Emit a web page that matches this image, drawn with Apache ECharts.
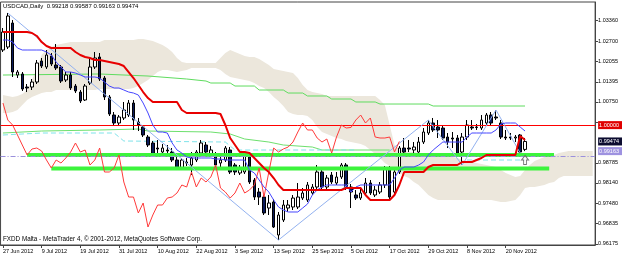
<!DOCTYPE html>
<html><head><meta charset="utf-8">
<script src="https://cdn.jsdelivr.net/npm/echarts@6/dist/echarts.min.js"></script>
<style>html,body{margin:0;padding:0;background:#fff}#c{width:625px;height:257px}</style>
</head><body><div id="c"></div>
<script>
const dates = ['27 Jun 2012','28 Jun 2012','29 Jun 2012',
'2 Jul 2012','3 Jul 2012','4 Jul 2012','5 Jul 2012','6 Jul 2012','9 Jul 2012','10 Jul 2012','11 Jul 2012','12 Jul 2012','13 Jul 2012','16 Jul 2012','17 Jul 2012','18 Jul 2012','19 Jul 2012','20 Jul 2012','23 Jul 2012','24 Jul 2012','25 Jul 2012','26 Jul 2012','27 Jul 2012','30 Jul 2012','31 Jul 2012',
'1 Aug 2012','2 Aug 2012','3 Aug 2012','6 Aug 2012','7 Aug 2012','8 Aug 2012','9 Aug 2012','10 Aug 2012','13 Aug 2012','14 Aug 2012','15 Aug 2012','16 Aug 2012','17 Aug 2012','20 Aug 2012','21 Aug 2012','22 Aug 2012','23 Aug 2012','24 Aug 2012','27 Aug 2012','28 Aug 2012','29 Aug 2012','30 Aug 2012','31 Aug 2012',
'3 Sep 2012','4 Sep 2012','5 Sep 2012','6 Sep 2012','7 Sep 2012','10 Sep 2012','11 Sep 2012','12 Sep 2012','13 Sep 2012','14 Sep 2012','17 Sep 2012','18 Sep 2012','19 Sep 2012','20 Sep 2012','21 Sep 2012','24 Sep 2012','25 Sep 2012','26 Sep 2012','27 Sep 2012','28 Sep 2012',
'1 Oct 2012','2 Oct 2012','3 Oct 2012','4 Oct 2012','5 Oct 2012','8 Oct 2012','9 Oct 2012','10 Oct 2012','11 Oct 2012','12 Oct 2012','15 Oct 2012','16 Oct 2012','17 Oct 2012','18 Oct 2012','19 Oct 2012','22 Oct 2012','23 Oct 2012','24 Oct 2012','25 Oct 2012','26 Oct 2012','29 Oct 2012','30 Oct 2012','31 Oct 2012',
'1 Nov 2012','2 Nov 2012','5 Nov 2012','6 Nov 2012','7 Nov 2012','8 Nov 2012','9 Nov 2012','12 Nov 2012','13 Nov 2012','14 Nov 2012','15 Nov 2012','16 Nov 2012','19 Nov 2012','20 Nov 2012','21 Nov 2012','22 Nov 2012','23 Nov 2012','26 Nov 2012',
'27 Nov 2012','28 Nov 2012','29 Nov 2012','30 Nov 2012','3 Dec 2012','4 Dec 2012','5 Dec 2012','6 Dec 2012','7 Dec 2012','10 Dec 2012','11 Dec 2012','12 Dec 2012','13 Dec 2012','14 Dec 2012'];

const tickLabels = ['27 Jun 2012','9 Jul 2012','19 Jul 2012','31 Jul 2012','10 Aug 2012','22 Aug 2012','3 Sep 2012','13 Sep 2012','25 Sep 2012','5 Oct 2012','17 Oct 2012','29 Oct 2012','8 Nov 2012','20 Nov 2012'];

const yTicks = [1.0336,1.027,1.02055,1.01395,1.0075,1.0009,0.98785,0.9814,0.9748,0.96835,0.96175];
const yTickLabels = ['1.03360','1.02700','1.02055','1.01395','1.00750','','0.98785','0.98140','0.97480','0.96835','0.96175'];

const open = [1.02417,1.02514,1.03286,1.01612,1.01645,1.01226,1.01226,1.01387,1.02063,1.0187,
1.02224,1.01934,1.0187,1.01452,1.01612,1.01258,1.01065,1.00808,1.01355,1.0187,
1.02192,1.01516,1.00905,1.00325,1.00068,1.00229,1.00325,1.00711,1.001,0.99939,
0.99617,0.99424,0.99263,0.99134,0.99199,0.99134,0.98877,0.98619,0.98813,0.98716,
0.98877,0.99102,0.9936,0.99038,0.99038,0.9878,0.98877,0.99199,0.98716,0.98459,
0.98491,0.98973,0.98233,0.97847,0.97686,0.97332,0.97526,0.96464,0.96946,0.97332,
0.97365,0.97365,0.97654,0.9759,0.97815,0.98008,0.98491,0.98008,0.98394,0.98137,
0.9833,0.98716,0.98008,0.97751,0.97654,0.97815,0.98137,0.97751,0.97847,0.98073,
0.98619,0.97847,0.98491,0.99263,0.99263,0.99199,0.99134,0.99456,0.99746,1.00068,
0.99939,0.99907,0.99617,0.99585,0.99585,0.99134,0.99617,0.99939,0.99939,0.99907,
1.00068,1.00325,1.00261,1.00068,0.99617,0.99617,0.99585,0.99682,0.99218];
const close = [1.02996,1.03511,1.01709,1.01709,1.01162,1.01194,1.01387,1.01999,1.01902,1.02256,
1.01966,1.01838,1.01419,1.01612,1.01194,1.01098,1.00776,1.01258,1.0187,1.0216,
1.01484,1.00905,1.00357,1.00068,1.00261,1.00486,1.00711,1.00164,1.00003,0.99682,
0.9936,0.99038,0.99231,0.99263,0.99167,0.98877,0.98619,0.98877,0.9878,0.98941,
0.99134,0.99424,0.99134,0.99199,0.98716,0.98877,0.99263,0.98491,0.98491,0.98619,
0.99038,0.98169,0.97686,0.97686,0.97172,0.97493,0.96721,0.97107,0.97429,0.97429,
0.97654,0.97686,0.97815,0.98073,0.98008,0.98491,0.98008,0.98298,0.98169,0.9833,
0.98716,0.97976,0.97847,0.97654,0.97815,0.98137,0.97815,0.97912,0.98073,0.98619,
0.97686,0.98491,0.99263,0.99134,0.99231,0.99295,0.99456,0.99778,1.00068,0.99843,
0.99843,0.99585,0.99456,0.99553,0.99102,0.99617,1.00003,0.99907,0.99925,1.00164,
1.00325,1.00068,1.00229,0.99617,0.99585,0.99585,0.99617,0.99134,0.99474];
const low = [1.02353,1.02449,1.01548,1.01516,1.01098,1.01065,1.0113,1.01323,1.01838,1.01806,
1.01902,1.01773,1.01355,1.01387,1.0113,1.01033,1.00711,1.00776,1.01291,1.01806,
1.01419,1.00808,1.00293,1.00003,0.99971,1.00164,1.00261,0.99843,0.9981,0.99617,
0.99295,0.99006,0.99038,0.9907,0.99102,0.98813,0.98555,0.98555,0.98684,0.98394,
0.98813,0.99038,0.9907,0.98973,0.98619,0.98619,0.98813,0.98426,0.98394,0.98394,
0.98426,0.98105,0.9759,0.97429,0.97107,0.97107,0.96689,0.96303,0.96882,0.97204,
0.97268,0.973,0.9759,0.97526,0.97751,0.97944,0.97912,0.97912,0.98105,0.98073,
0.98266,0.97912,0.97332,0.9759,0.9759,0.97751,0.97751,0.97686,0.97783,0.97976,
0.97622,0.97783,0.98426,0.99038,0.99134,0.99038,0.98973,0.99392,0.99682,0.99778,
0.99585,0.99521,0.99263,0.99263,0.99038,0.98716,0.99521,0.99843,0.99843,0.99843,
1.00003,1.00003,1.00164,0.99553,0.99521,0.99521,0.99456,0.99102,0.99163];
const high = [1.03125,1.03608,1.03382,1.01773,1.01709,1.01323,1.01484,1.02095,1.0216,1.02417,
1.0232,1.0261,1.01934,1.01709,1.01709,1.01323,1.0113,1.01323,1.02192,1.02353,
1.0232,1.0158,1.00969,1.00422,1.00325,1.00744,1.00808,1.00808,1.00229,1.00003,
0.99682,0.99488,0.99521,0.99392,0.9936,0.99263,0.98973,0.98941,0.98941,0.99134,
0.99199,0.99521,0.99456,0.99327,0.99134,0.98973,0.99327,0.99295,0.9878,0.98716,
0.99167,0.9907,0.98298,0.97976,0.97751,0.97751,0.97622,0.97204,0.9759,0.9759,
0.97751,0.98137,0.97976,0.98169,0.98105,0.98716,0.98619,0.98394,0.98491,0.98491,
0.9878,0.9878,0.98105,0.97912,0.97976,0.98298,0.98233,0.9804,0.98169,0.98684,
0.98684,0.98555,0.99327,0.99585,0.99521,0.99456,0.99617,0.99907,1.00164,1.00229,
1.00164,1.00003,0.99746,0.99778,0.99682,0.99746,1.00164,1.00164,1.00036,1.00325,
1.0039,1.00422,1.00486,1.00164,0.99843,0.99746,0.99682,0.99714,0.99587];

const tenkan = [1.02739,1.02739,1.02674,1.02481,1.02417,1.02417,1.02417,1.02417,1.02417,1.02353,
1.02256,1.02031,1.0187,1.01709,1.01709,1.01677,1.01612,1.01548,1.01548,1.01548,
1.01516,1.01387,1.01258,1.01194,1.01194,1.0113,1.01065,1.01033,1.00969,1.00711,
1.0039,1.00003,0.99778,0.99778,0.99746,0.99424,0.99199,0.99102,0.98974,0.98942,
0.98942,0.98942,0.98942,0.98942,0.98909,0.98909,0.98877,0.98877,0.98877,0.98877,
0.98877,0.98555,0.98459,0.98233,0.98008,0.97847,0.9759,0.97365,0.97268,0.97204,
0.97204,0.97204,0.97332,0.97461,0.97751,0.97912,0.98008,0.98073,0.98073,0.98073,
0.98073,0.98073,0.97847,0.98008,0.98073,0.98073,0.98073,0.98073,0.98073,0.98073,
0.98073,0.98298,0.98555,0.98652,0.98652,0.98652,0.98716,0.98813,0.99038,0.99199,
0.99328,0.99456,0.99456,0.99456,0.99456,0.99456,0.99617,0.99746,0.99746,0.99746,
0.99746,0.99746,0.99843,1.00036,1.00068,1.00068,1.00068,0.99939,0.9981];
const kijun = [1.02996,1.02996,1.02996,1.02996,1.02996,1.02996,1.02964,1.02868,1.02674,1.02546,
1.02481,1.02481,1.02481,1.02481,1.02481,1.02353,1.02256,1.02192,1.0216,1.02095,
1.02095,1.02063,1.02031,1.01999,1.01966,1.01902,1.01709,1.01516,1.01291,1.01065,
1.00872,1.00744,1.00744,1.00744,1.00744,1.00744,1.00744,1.00486,1.0039,1.0039,
1.0039,1.0039,1.0039,1.0039,1.0039,1.00357,1.00003,0.99585,0.9936,0.99134,
0.99134,0.99102,0.98941,0.9878,0.98619,0.98491,0.98298,0.98073,0.97912,0.97912,
0.97912,0.97912,0.97912,0.97912,0.97912,0.97912,0.97912,0.97912,0.97912,0.97912,
0.97912,0.97976,0.97976,0.97976,0.97976,0.97751,0.9759,0.9759,0.9759,0.9759,
0.9759,0.97751,0.98073,0.98491,0.98491,0.98491,0.98491,0.98491,0.98652,0.98716,
0.98716,0.98716,0.98716,0.98716,0.98716,0.98813,0.98813,0.98813,0.98877,0.98941,
0.99038,0.99038,0.99038,0.99038,0.99038,0.99038,0.99038,0.99649,0.99521];

const cloudUpper = [1.00969,1.00937,1.00905,1.00937,1.01001,1.0113,1.01452,1.01838,1.02256,1.02417,
1.02514,1.02578,1.0261,1.02642,1.02674,1.02674,1.02674,1.02674,1.02674,1.02674,
1.02674,1.02739,1.02739,1.02739,1.02739,1.02739,1.02739,1.02739,1.02771,1.02771,
1.02739,1.02707,1.02642,1.02578,1.02481,1.02353,1.0216,1.02031,1.01999,1.01999,
1.01999,1.01999,1.01999,1.01999,1.01999,1.0216,1.0232,1.02417,1.02353,1.02288,
1.02224,1.02192,1.02192,1.02127,1.02031,1.01934,1.01806,1.01773,1.01741,1.01709,
1.01677,1.01516,1.01291,1.0113,1.01065,1.01033,1.01001,1.00937,1.00937,1.00937,
1.00937,1.00937,1.00937,1.00937,1.00937,1.00937,1.00937,1.00937,1.00808,1.00647,
1.00003,0.9936,0.99231,0.99167,0.99135,0.99135,0.99102,0.99102,0.99102,0.99102,
0.9907,0.99038,0.99006,0.98974,0.98942,0.98877,0.98845,0.98813,0.98781,0.98749,
0.98716,0.98684,0.98652,0.98555,0.98459,0.98395,0.9833,0.98362,0.98555,0.98716,
0.98845,0.98909,0.98974,0.99006,0.99038,0.99102,0.99135,0.99167,0.99167,0.99167,
0.99167,0.99167,0.99167];
const cloudLower = [1.0039,1.0039,1.00422,1.00486,1.00647,1.00808,1.00905,1.00969,1.01033,1.01065,
1.01065,1.0113,1.0113,1.0113,1.0113,1.0113,1.0113,1.0113,1.0113,1.0113,
1.01162,1.01162,1.01162,1.01162,1.01162,1.01162,1.01162,1.01194,1.01258,1.01355,
1.01452,1.0158,1.01709,1.01773,1.01773,1.01741,1.01709,1.01741,1.01773,1.01838,
1.01838,1.01838,1.01838,1.01838,1.01838,1.01773,1.01645,1.01548,1.01516,1.01484,
1.01452,1.01419,1.01355,1.01258,1.01194,1.01065,1.00905,1.00776,1.00615,1.00422,
1.00357,1.00325,1.00325,1.00293,1.00164,0.99939,0.99778,0.99714,0.99649,0.99585,
0.99553,0.99489,0.99456,0.99424,0.99392,0.99328,0.99199,0.9907,0.98942,0.98781,
0.98684,0.98555,0.98459,0.98362,0.98298,0.98169,0.98073,0.97912,0.97751,0.97654,
0.9759,0.9759,0.9759,0.9759,0.9759,0.9759,0.9759,0.9759,0.9759,0.9759,
0.9759,0.9759,0.97558,0.97526,0.97526,0.97558,0.9759,0.97751,0.97976,0.98008,
0.98008,0.98041,0.98073,0.98137,0.98169,0.98298,0.98362,0.98362,0.98362,0.98362,
0.98362,0.98362,0.98362];

const chikouShift = 26;
const zigzag = [[1,1.03608],[57,0.96303],[88,1.00164],[95,0.98716],[102,1.00486],[107,0.99102]];
const maUpper = [[0,1.01612],[20,1.01645],[30,1.0158],[38,1.01484],[42,1.01419],[43,1.01355],[47,1.01355],[48,1.01258],[52,1.01258],[53,1.0113],[58,1.0113],[59,1.01033],[62,1.01033],[63,1.00937],[67,1.00937],[68,1.0084],[72,1.0084],[73,1.00744],[77,1.00744],[78,1.00679],[88,1.00679],[89,1.00615],[108,1.00615]];
const maLower = [[0,0.99746],[8,0.9981],[20,0.99843],[28,0.99875],[30,0.9981],[43,0.99778],[47,0.99714],[50,0.99553],[55,0.99456],[58,0.9936],[64,0.99295],[66,0.99199],[80,0.99199]];
const cyanA = [[0,0.99682],[8,0.99746],[23,0.99746],[25,0.99489],[46,0.99456],[48,0.99199],[73,0.99199]];
const cyanB = [[96,0.98877],[108,0.98877]];
const greenUpper = [[5,0.9904],[114,0.9904]];
const greenLower = [[10,0.9860],[113,0.9860]];
const redLevel = 1.0;
const purpleLevel = 0.99163;
const arrowMarks = [[108,0.98877]];

const last = open.length - 1;
const FONT = 'Liberation Sans';
const candles = open.map((o,i)=>[o, close[i], low[i], high[i]]);
const chikou = close.slice(chikouShift);
const cloudBand = cloudUpper.map((u,i)=>+(u - cloudLower[i]).toFixed(6));
const boxValues = [redLevel, close[last], purpleLevel];
const boxStyles = ['r','k','p'];

const chart = echarts.init(document.getElementById('c'), null, {renderer:'canvas'});
chart.setOption({
  animation:false,
  backgroundColor:'#fff',
  grid:{left:0, right:23, top:2, bottom:12, show:true, borderColor:'#444', borderWidth:1, backgroundColor:'#fff'},
  xAxis:{type:'category', data:dates, boundaryGap:true,
    axisLine:{show:true, lineStyle:{color:'#444'}},
    axisTick:{show:true, alignWithLabel:true, length:3, lineStyle:{color:'#444'},
      interval:(i,v)=>tickLabels.includes(v)},
    axisLabel:{show:true, interval:(i,v)=>tickLabels.includes(v), align:'left', margin:3,
      fontSize:5.5, fontFamily:FONT, color:'#000'},
    splitLine:{show:false}},
  yAxis:{type:'value', position:'right', min:0.96142, max:1.03962, scale:true,
    axisLine:{show:true, lineStyle:{color:'#444'}},
    splitLine:{show:false},
    axisTick:{show:true, length:3, lineStyle:{color:'#444'}, customValues:yTicks},
    axisLabel:{show:true, margin:3, fontSize:5.5, fontFamily:FONT, color:'#000',
      customValues: yTicks.concat(boxValues),
      formatter:(v)=>{
        const b = boxValues.indexOf(v);
        if (b >= 0) return '{' + boxStyles[b] + '|' + v.toFixed(5) + '}';
        const t = yTicks.indexOf(v);
        return t >= 0 ? yTickLabels[t] : '';
      },
      rich:{
        r:{backgroundColor:'#e00000', color:'#fff', fontSize:5.5, fontFamily:FONT, padding:[1,3,1,1]},
        k:{backgroundColor:'#0c0c30', color:'#fff', fontSize:5.5, fontFamily:FONT, padding:[1,3,1,1]},
        p:{backgroundColor:'#9e92e0', color:'#fff', fontSize:5.5, fontFamily:FONT, padding:[1,3,1,1]}
      }}},
  graphic:[
    {type:'text', left:3, top:3, z:100, style:{text:'USDCAD,Daily  ' + [open[last],high[last],low[last],close[last]].map(v=>v.toFixed(5)).join(' '), font:'6px "Liberation Sans"', fill:'#000'}},
    {type:'text', left:3, top:236, z:100, style:{text:'FXDD Malta - MetaTrader 4, \u00a9 2001-2012, MetaQuotes Software Corp.', font:'6.3px "Liberation Sans"', fill:'#000'}}
  ],
  series:[
    {name:'cloudBase', type:'line', data:cloudLower, stack:'cloud', symbol:'none', lineStyle:{width:0, opacity:0}, z:1, silent:true},
    {name:'cloud', type:'line', data:cloudBand, stack:'cloud', symbol:'none', lineStyle:{width:0, opacity:0},
      areaStyle:{color:'#ece7dc', opacity:1}, z:1, silent:true,
      markLine:{silent:true, symbol:'none', label:{show:false}, animation:false,
        data:[{yAxis:redLevel, lineStyle:{color:'#ff0000', width:1, type:'solid'}},
              {yAxis:purpleLevel, lineStyle:{color:'#9a90dc', width:1, type:[5,2,1,2]}}]}},
    {name:'maUpper', type:'line', data:maUpper, symbol:'none', lineStyle:{color:'#5fdc5f', width:1}, z:2},
    {name:'maLower', type:'line', data:maLower, symbol:'none', lineStyle:{color:'#6ee06e', width:1}, z:2},
    {name:'cyanA', type:'line', data:cyanA, symbol:'none', lineStyle:{color:'#7fe3ea', width:1, type:[5,3]}, z:2},
    {name:'cyanB', type:'line', data:cyanB, symbol:'none', lineStyle:{color:'#7fe3ea', width:1, type:[5,3]}, z:2},
    {name:'price', type:'candlestick', data:candles, barWidth:3, z:3,
      itemStyle:{color:'#ffffff', color0:'#0b1a5a', borderColor:'#000', borderColor0:'#000', borderWidth:1}},
    {name:'greenUpper', type:'line', data:greenUpper, symbol:'none', lineStyle:{color:'#3cf43c', width:4}, z:4},
    {name:'greenLower', type:'line', data:greenLower, symbol:'none', lineStyle:{color:'#3cf43c', width:4}, z:4},
    {name:'zigzag', type:'line', data:zigzag, symbol:'none', lineStyle:{color:'#93b2f0', width:1}, z:5},
    {name:'chikou', type:'line', data:chikou, symbol:'none', lineStyle:{color:'#ff3a3a', width:1}, z:5},
    {name:'tenkan', type:'line', data:tenkan, symbol:'none', lineStyle:{color:'#4646ff', width:1}, z:6},
    {name:'kijun', type:'line', data:kijun, symbol:'none', lineStyle:{color:'#e80000', width:2}, z:6},
    {name:'arrow', type:'scatter', data:arrowMarks, symbol:'path://M5,0 L10,5 L7,5 L7,10 L3,10 L3,5 L0,5 Z', symbolSize:[7,9],
      itemStyle:{color:'#fff', borderColor:'#555', borderWidth:1}, z:7}
  ]
});
</script></body></html>
